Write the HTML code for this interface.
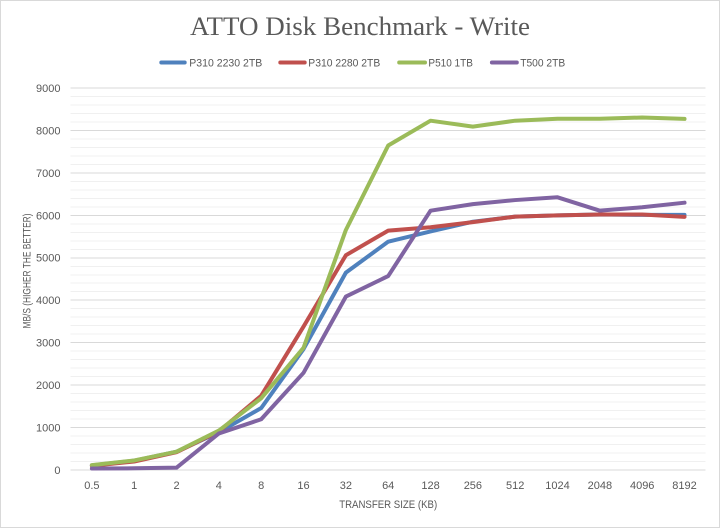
<!DOCTYPE html>
<html>
<head>
<meta charset="utf-8">
<style>
  html,body{margin:0;padding:0;background:#fff;}
  svg{display:block;}
  text{font-family:"Liberation Sans",sans-serif;fill:#595959;}
</style>
</head>
<body>
<svg width="720" height="529" viewBox="0 0 720 529" xmlns="http://www.w3.org/2000/svg">
  <rect x="0" y="0" width="720" height="529" fill="#fff"/>
  <rect x="0.5" y="0.5" width="719" height="527" fill="none" stroke="#d9d9d9" stroke-width="1"/>

  <!-- Title -->
  <text x="360" y="35" text-anchor="middle" style="font-family:'Liberation Serif',serif;font-size:26px;" textLength="340" lengthAdjust="spacingAndGlyphs">ATTO Disk Benchmark - Write</text>

  <!-- Legend -->
  <g stroke-width="4" stroke-linecap="round">
    <line x1="161.3" y1="62.5" x2="184.7" y2="62.5" stroke="#4F81BD"/>
    <line x1="280.3" y1="62.5" x2="304.7" y2="62.5" stroke="#C0504D"/>
    <line x1="399.2" y1="62.5" x2="425" y2="62.5" stroke="#9BBB59"/>
    <line x1="491.9" y1="62.5" x2="516.8" y2="62.5" stroke="#8064A2"/>
  </g>
  <g style="font-size:11px;">
    <text x="189.3" y="66.5" textLength="73" lengthAdjust="spacingAndGlyphs">P310 2230 2TB</text>
    <text x="308.3" y="66.5" textLength="72" lengthAdjust="spacingAndGlyphs">P310 2280 2TB</text>
    <text x="428.4" y="66.5" textLength="44.5" lengthAdjust="spacingAndGlyphs">P510 1TB</text>
    <text x="520.2" y="66.5" textLength="45" lengthAdjust="spacingAndGlyphs">T500 2TB</text>
  </g>

  <!-- Minor gridlines -->
  <g stroke="#f0f0f0" stroke-width="1" shape-rendering="crispEdges">
    <line x1="70.7" x2="705.7" y1="461.51" y2="461.51"/>
    <line x1="70.7" x2="705.7" y1="453.02" y2="453.02"/>
    <line x1="70.7" x2="705.7" y1="444.53" y2="444.53"/>
    <line x1="70.7" x2="705.7" y1="436.04" y2="436.04"/>
    <line x1="70.7" x2="705.7" y1="419.07" y2="419.07"/>
    <line x1="70.7" x2="705.7" y1="410.58" y2="410.58"/>
    <line x1="70.7" x2="705.7" y1="402.09" y2="402.09"/>
    <line x1="70.7" x2="705.7" y1="393.60" y2="393.60"/>
    <line x1="70.7" x2="705.7" y1="376.62" y2="376.62"/>
    <line x1="70.7" x2="705.7" y1="368.13" y2="368.13"/>
    <line x1="70.7" x2="705.7" y1="359.64" y2="359.64"/>
    <line x1="70.7" x2="705.7" y1="351.16" y2="351.16"/>
    <line x1="70.7" x2="705.7" y1="334.18" y2="334.18"/>
    <line x1="70.7" x2="705.7" y1="325.69" y2="325.69"/>
    <line x1="70.7" x2="705.7" y1="317.20" y2="317.20"/>
    <line x1="70.7" x2="705.7" y1="308.71" y2="308.71"/>
    <line x1="70.7" x2="705.7" y1="291.73" y2="291.73"/>
    <line x1="70.7" x2="705.7" y1="283.24" y2="283.24"/>
    <line x1="70.7" x2="705.7" y1="274.76" y2="274.76"/>
    <line x1="70.7" x2="705.7" y1="266.27" y2="266.27"/>
    <line x1="70.7" x2="705.7" y1="249.29" y2="249.29"/>
    <line x1="70.7" x2="705.7" y1="240.80" y2="240.80"/>
    <line x1="70.7" x2="705.7" y1="232.31" y2="232.31"/>
    <line x1="70.7" x2="705.7" y1="223.82" y2="223.82"/>
    <line x1="70.7" x2="705.7" y1="206.84" y2="206.84"/>
    <line x1="70.7" x2="705.7" y1="198.36" y2="198.36"/>
    <line x1="70.7" x2="705.7" y1="189.87" y2="189.87"/>
    <line x1="70.7" x2="705.7" y1="181.38" y2="181.38"/>
    <line x1="70.7" x2="705.7" y1="164.40" y2="164.40"/>
    <line x1="70.7" x2="705.7" y1="155.91" y2="155.91"/>
    <line x1="70.7" x2="705.7" y1="147.42" y2="147.42"/>
    <line x1="70.7" x2="705.7" y1="138.93" y2="138.93"/>
    <line x1="70.7" x2="705.7" y1="121.96" y2="121.96"/>
    <line x1="70.7" x2="705.7" y1="113.47" y2="113.47"/>
    <line x1="70.7" x2="705.7" y1="104.98" y2="104.98"/>
    <line x1="70.7" x2="705.7" y1="96.49" y2="96.49"/>
  </g>
  <!-- Major gridlines -->
  <g stroke="#d9d9d9" stroke-width="1" shape-rendering="crispEdges">
    <line x1="70.7" x2="705.7" y1="427.56" y2="427.56"/>
    <line x1="70.7" x2="705.7" y1="385.11" y2="385.11"/>
    <line x1="70.7" x2="705.7" y1="342.67" y2="342.67"/>
    <line x1="70.7" x2="705.7" y1="300.22" y2="300.22"/>
    <line x1="70.7" x2="705.7" y1="257.78" y2="257.78"/>
    <line x1="70.7" x2="705.7" y1="215.33" y2="215.33"/>
    <line x1="70.7" x2="705.7" y1="172.89" y2="172.89"/>
    <line x1="70.7" x2="705.7" y1="130.44" y2="130.44"/>
    <line x1="70.7" x2="705.7" y1="88" y2="88"/>
    <line x1="70.7" x2="705.7" y1="470" y2="470"/>
  </g>

  <!-- Y tick labels -->
  <g style="font-size:11px;" text-anchor="end">
    <text x="60.5" y="474">0</text>
    <text x="60.5" y="431.5">1000</text>
    <text x="60.5" y="389">2000</text>
    <text x="60.5" y="346.5">3000</text>
    <text x="60.5" y="304">4000</text>
    <text x="60.5" y="261.7">5000</text>
    <text x="60.5" y="219.3">6000</text>
    <text x="60.5" y="176.9">7000</text>
    <text x="60.5" y="134.4">8000</text>
    <text x="60.5" y="92">9000</text>
  </g>

  <!-- Y axis title -->
  <text transform="translate(30.5,271) rotate(-90)" text-anchor="middle" style="font-size:11px;" textLength="115" lengthAdjust="spacingAndGlyphs">MB/S (HIGHER THE BETTER)</text>

  <!-- X tick labels -->
  <g style="font-size:11px;" text-anchor="middle">
    <text x="91.87" y="489">0.5</text>
    <text x="134.2" y="489">1</text>
    <text x="176.53" y="489">2</text>
    <text x="218.87" y="489">4</text>
    <text x="261.2" y="489">8</text>
    <text x="303.53" y="489">16</text>
    <text x="345.87" y="489">32</text>
    <text x="388.2" y="489">64</text>
    <text x="430.53" y="489">128</text>
    <text x="472.87" y="489">256</text>
    <text x="515.2" y="489">512</text>
    <text x="557.53" y="489">1024</text>
    <text x="599.87" y="489">2048</text>
    <text x="642.2" y="489">4096</text>
    <text x="684.53" y="489">8192</text>
  </g>

  <!-- X axis title -->
  <text x="388.2" y="508" text-anchor="middle" style="font-size:11px;" textLength="98" lengthAdjust="spacingAndGlyphs">TRANSFER SIZE (KB)</text>

  <!-- Series -->
  <g fill="none" stroke-width="4" stroke-linejoin="round" stroke-linecap="round">
    <polyline stroke="#4F81BD" points="91.87,465.33 134.2,460.66 176.53,451.75 218.87,432.22 261.2,408.03 303.53,349.03 345.87,272.64 388.2,241.65 430.53,231.47 472.87,221.70 515.2,216.61 557.53,215.34 599.87,214.49 642.2,214.91 684.53,214.91"/>
    <polyline stroke="#C0504D" points="91.87,465.76 134.2,461.51 176.53,452.17 218.87,431.38 261.2,395.72 303.53,326.54 345.87,255.23 388.2,230.62 430.53,227.22 472.87,222.13 515.2,216.61 557.53,215.34 599.87,214.49 642.2,214.49 684.53,216.82"/>
    <polyline stroke="#9BBB59" points="91.87,465.12 134.2,460.45 176.53,451.71 218.87,430.53 261.2,398.27 303.53,347.76 345.87,229.98 388.2,145.51 430.53,120.69 472.87,126.63 515.2,120.69 557.53,118.77 599.87,118.77 642.2,117.50 684.53,118.90"/>
    <polyline stroke="#8064A2" points="91.87,468.51 134.2,468.30 176.53,467.67 218.87,433.50 261.2,419.28 303.53,372.80 345.87,296.61 388.2,276.03 430.53,210.67 472.87,204.09 515.2,200.06 557.53,197.30 599.87,210.67 642.2,207.27 684.53,202.69"/>
  </g>
</svg>
</body>
</html>
